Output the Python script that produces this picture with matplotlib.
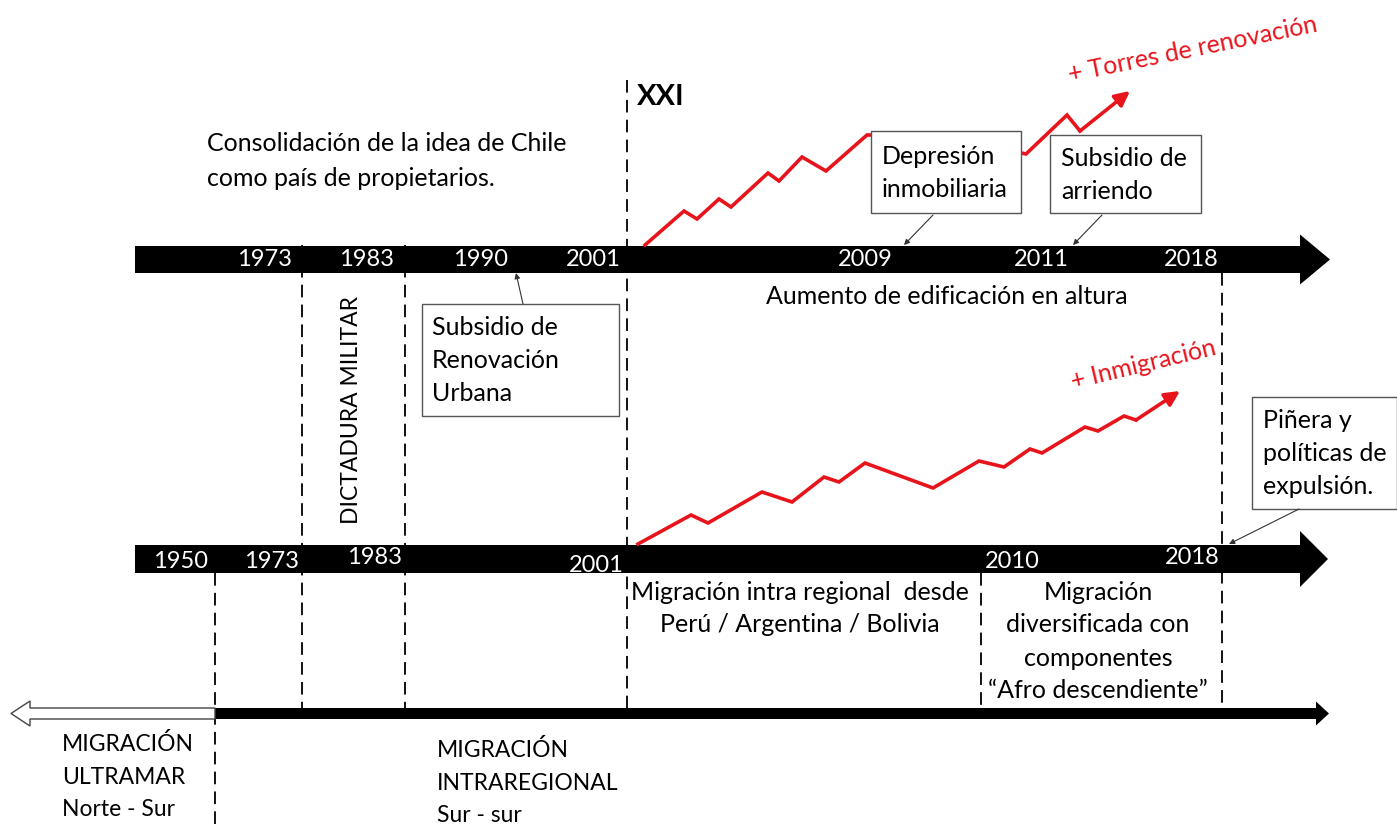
import matplotlib.pyplot as plt
from matplotlib.patches import Polygon, Rectangle

plt.rcParams['font.family'] = ['Lato', 'DejaVu Sans']

W, H = 1397, 824
RED = '#e8141c'
FS = 18      # mixed-case text
FS_CAPS = 16.5

# --- timeline data (pixel layout of the schematic) ---
top_years = ['1973', '1983', '1990', '2001', '2009', '2011', '2018']
top_year_x = [265, 367, 481, 593, 865, 1041, 1191]
mid_years = ['1950', '1973', '1983', '2001', '2010', '2018']
mid_year_x = [181, 272, 375, 596, 1012, 1192]
mid_year_y = [562, 562, 557, 565, 562, 558]

# red trend lines (x, y)
torres_x = [645, 684, 697, 719, 731, 768, 779, 802, 826, 867, 940, 1026, 1067, 1080]
torres_y = [245, 211, 219, 199, 207, 173, 181, 157, 171, 135, 135, 154, 115, 131]
torres_tip = (1130, 91)
inmig_x = [638, 691, 708, 762, 792, 824, 839, 865, 933, 979, 1004, 1030, 1042, 1085, 1098, 1124, 1136]
inmig_y = [544, 515, 523, 492, 502, 477, 482, 463, 488, 461, 467, 449, 453, 427, 431, 416, 420]
inmig_tip = (1180, 391)

# dashed separators: (x, y_start, y_end)
dashed = [(302, 245, 708), (405, 245, 708), (627, 80, 708), (1222, 273, 708),
          (215, 573, 824), (981, 573, 708)]

fig = plt.figure(figsize=(W / 100, H / 100), dpi=100)
ax = fig.add_axes([0, 0, 1, 1])
ax.set_xlim(0, W)
ax.set_ylim(H, 0)
ax.axis('off')


def bar_arrow(x0, x1, y0, y1, head_base, head_h, tip, fc='black', ec='black', lw=0):
    yc = (y0 + y1) / 2
    pts = [(x0, y0), (head_base, y0), (head_base, yc - head_h), (tip, yc),
           (head_base, yc + head_h), (head_base, y1), (x0, y1)]
    ax.add_patch(Polygon(pts, closed=True, fc=fc, ec=ec, lw=lw, zorder=3))


# black timeline arrows
bar_arrow(135, 1330, 246, 273, 1300, 25, 1330)
bar_arrow(135, 1330, 545, 573, 1300, 28, 1328)
bar_arrow(215, 1330, 708, 719, 1316, 12, 1329)
# hollow arrow to the left
pts = [(215, 708), (30, 708), (30, 701), (11, 713.5), (30, 726), (30, 719), (215, 719)]
ax.add_patch(Polygon(pts, closed=True, fc='white', ec='#444444', lw=1, zorder=3))

# dashed verticals
for x, ya, yb in dashed:
    ax.plot([x, x], [ya, yb], color='black', lw=1.3, ls=(0, (7, 4)), zorder=2)

# year labels
for lab, x in zip(top_years, top_year_x):
    ax.text(x, 260, lab, color='white', fontsize=17, ha='center', va='center', zorder=5)
for lab, x, y in zip(mid_years, mid_year_x, mid_year_y):
    ax.text(x, y, lab, color='white', fontsize=17, ha='center', va='center', zorder=5)

# red zigzags with arrowheads
ax.plot(torres_x, torres_y, color=RED, lw=2.6, zorder=4, solid_joinstyle='miter')
ax.annotate('', xy=torres_tip, xytext=(torres_x[-1], torres_y[-1]),
            arrowprops=dict(arrowstyle='-|>', color=RED, lw=2.6, mutation_scale=22,
                            shrinkA=0, shrinkB=0), zorder=4)
ax.plot(inmig_x, inmig_y, color=RED, lw=2.6, zorder=4, solid_joinstyle='miter')
ax.annotate('', xy=inmig_tip, xytext=(inmig_x[-1], inmig_y[-1]),
            arrowprops=dict(arrowstyle='-|>', color=RED, lw=2.6, mutation_scale=22,
                            shrinkA=0, shrinkB=0), zorder=4)

ax.text(1070, 82, '+ Torres de renovación', color=RED, fontsize=FS, rotation=11.5,
        rotation_mode='anchor', ha='left', va='baseline')
ax.text(1073, 389, '+ Inmigración', color=RED, fontsize=FS, rotation=13.5,
        rotation_mode='anchor', ha='left', va='baseline')

# boxes with callouts
boxes = [
    (871, 131, 150, 82, ['Depresión', 'inmobiliaria'], 882, 156, (933, 215), (904, 245)),
    (1050, 135, 151, 78, ['Subsidio de', 'arriendo'], 1061, 158, (1102, 215), (1073, 245)),
    (422, 304, 197, 112, ['Subsidio de', 'Renovación', 'Urbana'], 432, 327, (523, 304), (516, 273)),
    (1252, 397, 145, 112, ['Piñera y', 'políticas de', 'expulsión.'], 1263, 420, (1299, 509), (1229, 544)),
]
for bx, by, bw, bh, lines, tx, ty, p0, p1 in boxes:
    ax.add_patch(Rectangle((bx, by), bw, bh, fc='white', ec='#555555', lw=1, zorder=6))
    for i, line in enumerate(lines):
        ax.text(tx, ty + i * 33, line, fontsize=FS, ha='left', va='center', zorder=7)
    ax.annotate('', xy=p1, xytext=p0,
                arrowprops=dict(arrowstyle='-|>', color='#333333', lw=0.8,
                                mutation_scale=8, shrinkA=0, shrinkB=0), zorder=6)

# free text
ax.text(637, 97, 'XXI', fontsize=21, fontweight='bold', ha='left', va='center')
for i, line in enumerate(['Consolidación de la idea de Chile', 'como país de propietarios.']):
    ax.text(207, 143 + i * 35, line, fontsize=FS, ha='left', va='center')
ax.text(947, 297, 'Aumento de edificación en altura', fontsize=FS, ha='center', va='center')
ax.text(352, 410, 'DICTADURA MILITAR', fontsize=FS_CAPS, rotation=90, ha='center', va='center')

for i, line in enumerate(['Migración intra regional  desde', 'Perú / Argentina / Bolivia']):
    ax.text(800, 592 + i * 33, line, fontsize=FS, ha='center', va='center')
for i, line in enumerate(['Migración', 'diversificada con', 'componentes',
                          '\u201cAfro descendiente\u201d']):
    ax.text(1098, 592 + i * 33, line, fontsize=FS, ha='center', va='center')

for i, line in enumerate(['MIGRACIÓN', 'ULTRAMAR', 'Norte - Sur']):
    ax.text(62, 744 + i * 33, line, fontsize=FS_CAPS, ha='left', va='center')
for i, line in enumerate(['MIGRACIÓN', 'INTRAREGIONAL', 'Sur - sur']):
    ax.text(437, 750 + i * 33, line, fontsize=FS_CAPS, ha='left', va='center')

fig.savefig('out.png', dpi=100)
